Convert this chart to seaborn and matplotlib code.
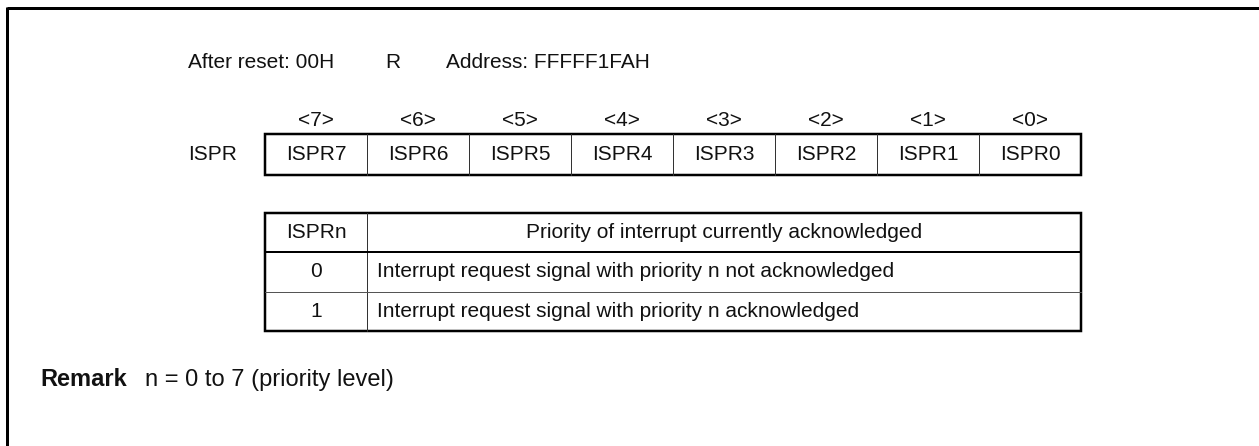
import matplotlib.pyplot as plt
import seaborn as sns

# register content
reg_name = 'ISPR'
bit_numbers = [7, 6, 5, 4, 3, 2, 1, 0]
bit_names = ['ISPR7', 'ISPR6', 'ISPR5', 'ISPR4', 'ISPR3', 'ISPR2', 'ISPR1', 'ISPR0']
header_items = ['After reset: 00H', 'R', 'Address: FFFFF1FAH']

# description table
table_head = ['ISPRn', 'Priority of interrupt currently acknowledged']
table_values = ['0', '1']
table_text = ['Interrupt request signal with priority n not acknowledged',
              'Interrupt request signal with priority n acknowledged']
remark_label = 'Remark'
remark_text = 'n = 0 to 7 (priority level)'

sns.set_style('white')
plt.rcParams['font.family'] = ['Liberation Sans', 'DejaVu Sans']
FS = 15
PX = 0.72  # one pixel in points at dpi 100
INK = '#111111'

figure = plt.figure(figsize=(12.59, 4.46), dpi=100)
ax = figure.add_axes([0, 0, 1, 1])
ax.set_xlim(0, 1259)
ax.set_ylim(446, 0)
ax.axis('off')

# outer frame: top and left only
ax.plot([7, 1259], [8, 8], color='black', lw=3 * PX, solid_capstyle='butt')
ax.plot([7, 7], [7, 446], color='black', lw=3 * PX, solid_capstyle='butt')

# header line
for text, x in zip(header_items, [188, 385, 446]):
    ax.text(x, 62, text, fontsize=FS, ha='left', va='center', color=INK)

# register boxes
left, cell_w = 265, 102
top, bottom = 134, 175
ax.text(188, 155, reg_name, fontsize=FS, ha='left', va='center', color=INK)
for i, (num, name) in enumerate(zip(bit_numbers, bit_names)):
    cx = left + cell_w * (i + 0.5)
    ax.text(cx, 120, f'<{num}>', fontsize=FS, ha='center', va='center', color=INK)
    ax.text(cx, 155, name, fontsize=FS, ha='center', va='center', color=INK)
    if i > 0:
        x = left + cell_w * i
        ax.plot([x, x], [top, bottom], color='#333333', lw=1 * PX)
right = left + cell_w * len(bit_names)
ax.add_patch(plt.Rectangle((left, top), right - left, bottom - top, fill=False,
                           edgecolor='black', lw=2.5 * PX))

# description table
t_top, row_h = 213, 39.3
n_rows = 1 + len(table_values)
t_bottom = t_top + row_h * n_rows
col_x = left + cell_w
ax.add_patch(plt.Rectangle((left, t_top), right - left, t_bottom - t_top, fill=False,
                           edgecolor='black', lw=2.5 * PX))
ax.plot([col_x, col_x], [t_top, t_bottom], color='#333333', lw=1 * PX)
ax.plot([left, right], [t_top + row_h] * 2, color='black', lw=2 * PX)
for r in range(2, n_rows):
    ax.plot([left, right], [t_top + row_h * r] * 2, color='#555555', lw=1 * PX)

ax.text((left + col_x) / 2, t_top + row_h / 2, table_head[0], fontsize=FS,
        ha='center', va='center', color=INK)
ax.text((col_x + right) / 2, t_top + row_h / 2, table_head[1], fontsize=FS,
        ha='center', va='center', color=INK)
for r, (val, txt) in enumerate(zip(table_values, table_text), start=1):
    cy = t_top + row_h * (r + 0.5)
    ax.text((left + col_x) / 2, cy, val, fontsize=FS, ha='center', va='center', color=INK)
    ax.text(col_x + 10, cy, txt, fontsize=FS, ha='left', va='center', color=INK)

# remark
ax.text(40, 380, remark_label, fontsize=FS + 2, fontweight='bold', ha='left',
        va='center', color=INK)
ax.text(145, 380, remark_text, fontsize=FS + 2, ha='left', va='center', color=INK)

figure.savefig('out.png', dpi=100)
